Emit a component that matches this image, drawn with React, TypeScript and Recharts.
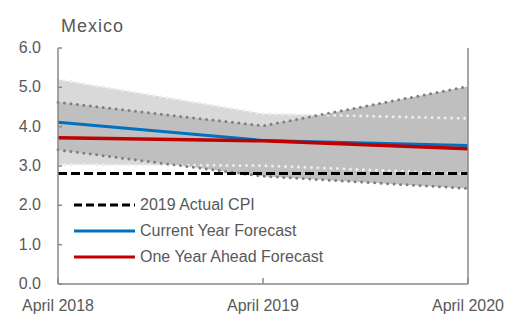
import { ComposedChart, Area, Line, XAxis, YAxis, Legend } from 'recharts'

const PERIODS = ['April 2018', 'April 2019', 'April 2020']
const OUTER_HIGH = [5.2, 4.33, 4.21]
const OUTER_LOW = [3.04, 3.01, 2.8]
const INNER_HIGH = [4.62, 4.02, 5.02]
const INNER_LOW = [3.41, 2.74, 2.43]
const CURRENT_YEAR = [4.11, 3.65, 3.52]
const YEAR_AHEAD = [3.72, 3.64, 3.44]
const ACTUAL_CPI = [2.81, 2.81, 2.81]
const Y_TICKS = [0, 1, 2, 3, 4, 5, 6]

const TEXT = '#595959'
const AXIS = '#898989'
const FONT = '"Liberation Sans", Arial, sans-serif'

const LEGEND_ITEMS = [
  { name: '2019 Actual CPI', color: '#000000', dash: '8 4' },
  { name: 'Current Year Forecast', color: '#0070C0', dash: undefined },
  { name: 'One Year Ahead Forecast', color: '#C00000', dash: undefined },
]

const data = PERIODS.map((period, i) => ({
  period,
  outer: [OUTER_LOW[i], OUTER_HIGH[i]],
  inner: [INNER_LOW[i], INNER_HIGH[i]],
  outerHigh: OUTER_HIGH[i],
  outerLow: OUTER_LOW[i],
  innerHigh: INNER_HIGH[i],
  innerLow: INNER_LOW[i],
  current: CURRENT_YEAR[i],
  ahead: YEAR_AHEAD[i],
  actual: ACTUAL_CPI[i],
}))

const fmt = (v: number) => v.toFixed(1)

function LeftTick({ x, y, payload }: any) {
  return (
    <g>
      <line x1={x + 17} x2={x + 21} y1={y} y2={y} stroke={AXIS} strokeWidth={1.5} />
      <text x={x} y={y + 5} textAnchor="end" fill={TEXT} fontSize={16} fontFamily={FONT}>
        {fmt(payload.value)}
      </text>
    </g>
  )
}

function RightTick({ x, y, payload }: any) {
  return (
    <g>
      <line x1={x - 15} x2={x - 19} y1={y} y2={y} stroke={AXIS} strokeWidth={1.5} />
      <text x={x} y={y + 5} textAnchor="start" fill={TEXT} fontSize={16} fontFamily={FONT}>
        {fmt(payload.value)}
      </text>
    </g>
  )
}

function BottomTick({ x, y, payload }: any) {
  return (
    <g>
      <line x1={x} x2={x} y1={y} y2={y - 6} stroke={AXIS} strokeWidth={1.5} />
      <text x={x} y={y + 27} textAnchor="middle" fill={TEXT} fontSize={16} fontFamily={FONT}>
        {payload.value}
      </text>
    </g>
  )
}

function LegendBox() {
  return (
    <div style={{ fontFamily: FONT, fontSize: 16, color: TEXT }}>
      {LEGEND_ITEMS.map(item => (
        <div key={item.name} style={{ display: 'flex', alignItems: 'center', height: 26 }}>
          <svg width={66} height={10}>
            <line x1={0} x2={61} y1={5} y2={5} stroke={item.color} strokeWidth={3} strokeDasharray={item.dash} />
          </svg>
          <span>{item.name}</span>
        </div>
      ))}
    </div>
  )
}

export default function App() {
  return (
    <div style={{ position: 'absolute', left: 0, top: 0, width: 513, height: 316, background: '#fff' }}>
      <div style={{ position: 'absolute', left: 61, top: 17, fontFamily: FONT, fontSize: 18, lineHeight: 1, color: TEXT, letterSpacing: 1 }}>
        Mexico
      </div>
      <ComposedChart width={513} height={316} data={data} margin={{ top: 48, right: 0, left: 0, bottom: 0 }}>
        <XAxis
          dataKey="period"
          scale="point"
          padding={{ left: 0, right: 0 }}
          height={32}
          tickSize={0}
          tickMargin={0}
          axisLine={{ stroke: AXIS, strokeWidth: 1.5 }}
          tickLine={false}
          tick={<BottomTick />}
          interval={0}
        />
        <YAxis
          yAxisId="left"
          domain={[0, 6]}
          ticks={Y_TICKS}
          width={58}
          tickSize={0}
          tickMargin={17}
          axisLine={{ stroke: AXIS, strokeWidth: 1.5 }}
          tickLine={false}
          tick={<LeftTick />}
        />
        <YAxis
          yAxisId="right"
          orientation="right"
          domain={[0, 6]}
          ticks={Y_TICKS}
          width={45}
          tickSize={0}
          tickMargin={15}
          axisLine={{ stroke: AXIS, strokeWidth: 1.5 }}
          tickLine={false}
          tick={<RightTick />}
        />
        <Area yAxisId="left" type="linear" dataKey="outer" stroke="none" fill="#d9d9d9" fillOpacity={1} isAnimationActive={false} activeDot={false} />
        <Area yAxisId="left" type="linear" dataKey="inner" stroke="none" fill="#bfbfbf" fillOpacity={1} isAnimationActive={false} activeDot={false} />
        <Line yAxisId="left" type="linear" dataKey="outerHigh" stroke="#ededed" strokeWidth={3} strokeDasharray="0 6.5" strokeLinecap="round" dot={false} activeDot={false} isAnimationActive={false} />
        <Line yAxisId="left" type="linear" dataKey="outerLow" stroke="#ededed" strokeWidth={3} strokeDasharray="0 6.5" strokeLinecap="round" dot={false} activeDot={false} isAnimationActive={false} />
        <Line yAxisId="left" type="linear" dataKey="innerHigh" stroke="#7f7f7f" strokeWidth={3} strokeDasharray="0 6.5" strokeLinecap="round" dot={false} activeDot={false} isAnimationActive={false} />
        <Line yAxisId="left" type="linear" dataKey="innerLow" stroke="#7f7f7f" strokeWidth={3} strokeDasharray="0 6.5" strokeLinecap="round" dot={false} activeDot={false} isAnimationActive={false} />
        <Line yAxisId="left" type="linear" dataKey="actual" stroke="#000000" strokeWidth={3} strokeDasharray="9 4" dot={false} activeDot={false} isAnimationActive={false} />
        <Line yAxisId="left" type="linear" dataKey="current" stroke="#0070C0" strokeWidth={3} dot={false} activeDot={false} isAnimationActive={false} />
        <Line yAxisId="left" type="linear" dataKey="ahead" stroke="#C00000" strokeWidth={3.5} dot={false} activeDot={false} isAnimationActive={false} />
        <Legend
          layout="horizontal"
          align="center"
          verticalAlign="middle"
          wrapperStyle={{ left: 74, top: 192, width: 'auto' }}
          content={<LegendBox />}
        />
      </ComposedChart>
    </div>
  )
}
